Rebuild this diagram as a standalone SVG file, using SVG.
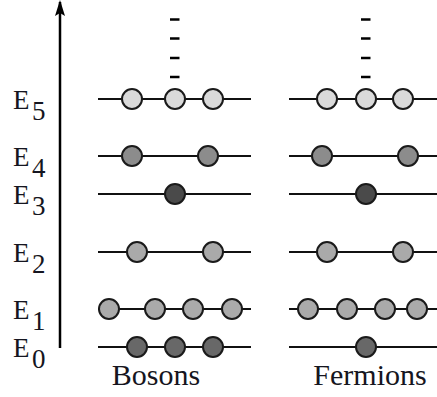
<svg xmlns="http://www.w3.org/2000/svg" width="437" height="397" viewBox="0 0 437 397">
<style>
.lvl{stroke:#111;stroke-width:2;fill:none}
.p{stroke:#1a1a1a;stroke-width:2}
.c5{fill:#dadada}.c4{fill:#8c8c8c}.c3{fill:#4a4a4a}.c2{fill:#aaaaaa}.c1{fill:#aaaaaa}.c0{fill:#686868}
.dash{stroke:#000;stroke-width:2.5}
</style>
<defs>
<marker id="ah" markerWidth="16" markerHeight="10" refX="14" refY="5" orient="auto" markerUnits="userSpaceOnUse" viewBox="0 0 16 10">
<path d="M16,5 L0,0 L3,5 L0,10 Z" fill="#000"/>
</marker>
</defs>
<g id="axis">
<line x1="60" y1="348" x2="60" y2="2" stroke="#000" stroke-width="2.5" marker-end="url(#ah)"/>
</g>
<g id="labels" font-family="'Liberation Serif', 'DejaVu Serif', serif" font-size="27" fill="#151520">
<text x="13" y="109">E<tspan x="32" y="120">5</tspan></text>
<text x="13" y="166">E<tspan x="32" y="177">4</tspan></text>
<text x="13" y="204">E<tspan x="32" y="215">3</tspan></text>
<text x="13" y="262">E<tspan x="32" y="273">2</tspan></text>
<text x="13" y="319">E<tspan x="32" y="330">1</tspan></text>
<text x="13" y="357">E<tspan x="32" y="368">0</tspan></text>
</g>
<g id="levels">
<line class="lvl" x1="98" y1="99" x2="251" y2="99"/>
<line class="lvl" x1="98" y1="156" x2="251" y2="156"/>
<line class="lvl" x1="98" y1="194" x2="251" y2="194"/>
<line class="lvl" x1="98" y1="252" x2="251" y2="252"/>
<line class="lvl" x1="98" y1="309" x2="251" y2="309"/>
<line class="lvl" x1="98" y1="347" x2="251" y2="347"/>
<line class="lvl" x1="289" y1="99" x2="437" y2="99"/>
<line class="lvl" x1="289" y1="156" x2="437" y2="156"/>
<line class="lvl" x1="289" y1="194" x2="437" y2="194"/>
<line class="lvl" x1="289" y1="252" x2="437" y2="252"/>
<line class="lvl" x1="289" y1="309" x2="437" y2="309"/>
<line class="lvl" x1="289" y1="347" x2="437" y2="347"/>
</g>
<g id="dots">
<line class="dash" x1="170" y1="19.5" x2="179.5" y2="19.5" stroke-width="3"/>
<line class="dash" x1="170" y1="38.5" x2="179.5" y2="38.5"/>
<line class="dash" x1="170" y1="58" x2="179.5" y2="58"/>
<line class="dash" x1="170" y1="77" x2="179.5" y2="77"/>
<line class="dash" x1="361" y1="19.5" x2="370.5" y2="19.5" stroke-width="3"/>
<line class="dash" x1="361" y1="38.5" x2="370.5" y2="38.5"/>
<line class="dash" x1="361" y1="58" x2="370.5" y2="58"/>
<line class="dash" x1="361" y1="77" x2="370.5" y2="77"/>
</g>
<g id="bosons">
<circle class="p c5" cx="132" cy="99" r="10"/><circle class="p c5" cx="175" cy="99" r="10"/><circle class="p c5" cx="213" cy="99" r="10"/>
<circle class="p c4" cx="132" cy="156" r="10"/><circle class="p c4" cx="208" cy="156" r="10"/>
<circle class="p c3" cx="175" cy="194" r="10"/>
<circle class="p c2" cx="137" cy="252" r="10"/><circle class="p c2" cx="213" cy="252" r="10"/>
<circle class="p c1" cx="109" cy="309" r="10"/><circle class="p c1" cx="155" cy="309" r="10"/><circle class="p c1" cx="193" cy="309" r="10"/><circle class="p c1" cx="232" cy="309" r="10"/>
<circle class="p c0" cx="137" cy="347" r="10"/><circle class="p c0" cx="175" cy="347" r="10"/><circle class="p c0" cx="213" cy="347" r="10"/>
<text x="156" y="385" text-anchor="middle" font-family="'Liberation Serif', 'DejaVu Serif', serif" font-size="30" fill="#151520">Bosons</text>
</g>
<g id="fermions">
<circle class="p c5" cx="327" cy="99" r="10"/><circle class="p c5" cx="366" cy="99" r="10"/><circle class="p c5" cx="403" cy="99" r="10"/>
<circle class="p c4" cx="322" cy="156" r="10"/><circle class="p c4" cx="408" cy="156" r="10"/>
<circle class="p c3" cx="366" cy="194" r="10"/>
<circle class="p c2" cx="327" cy="252" r="10"/><circle class="p c2" cx="403" cy="252" r="10"/>
<circle class="p c1" cx="308" cy="309" r="10"/><circle class="p c1" cx="347" cy="309" r="10"/><circle class="p c1" cx="385" cy="309" r="10"/><circle class="p c1" cx="417" cy="309" r="10"/>
<circle class="p c0" cx="366" cy="347" r="10"/>
<text x="370" y="385" text-anchor="middle" font-family="'Liberation Serif', 'DejaVu Serif', serif" font-size="30" fill="#151520">Fermions</text>
</g>
</svg>
